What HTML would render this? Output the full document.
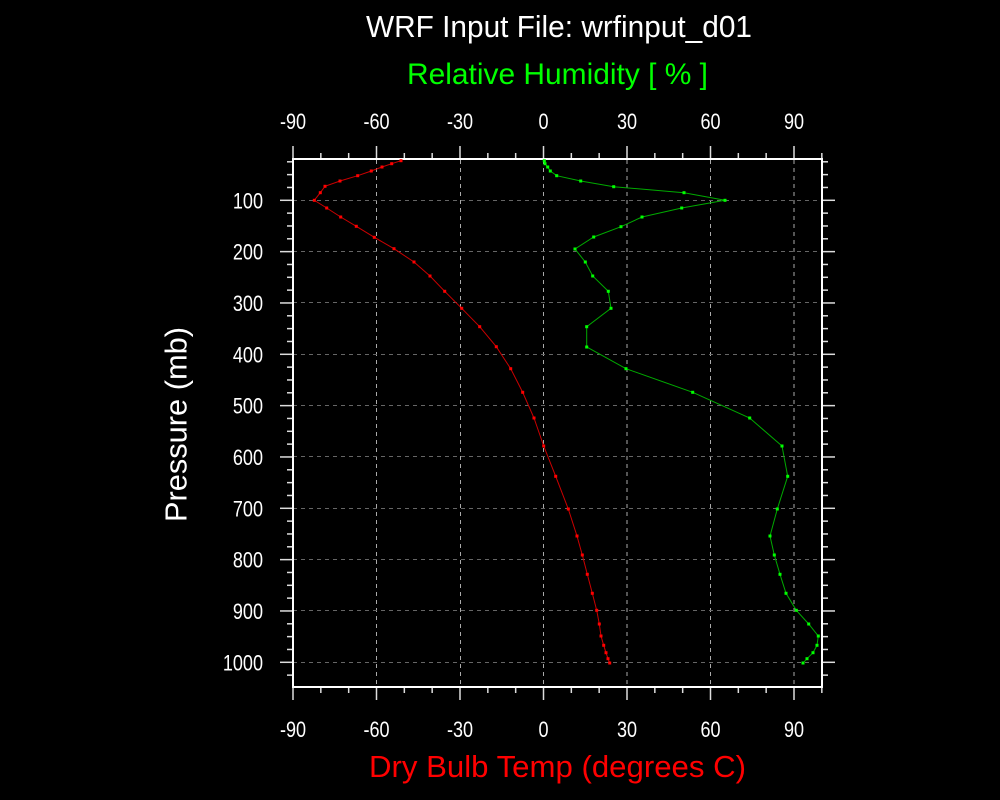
<!DOCTYPE html>
<html><head><style>html,body{margin:0;padding:0;background:#000;}svg{display:block}</style></head>
<body>
<svg width="1000" height="800" xmlns="http://www.w3.org/2000/svg" font-family="Liberation Sans, sans-serif">
<rect width="1000" height="800" fill="#000"/>
<g stroke="#aaa" stroke-width="1" stroke-dasharray="4,4">
<line x1="376.5" y1="160" x2="376.5" y2="687"/>
<line x1="460.5" y1="160" x2="460.5" y2="687"/>
<line x1="543.5" y1="160" x2="543.5" y2="687"/>
<line x1="627" y1="160" x2="627" y2="687"/>
<line x1="710.5" y1="160" x2="710.5" y2="687"/>
<line x1="794" y1="160" x2="794" y2="687"/>
</g>
<g stroke="#666" stroke-width="1" stroke-dasharray="4,4">
<line x1="293" y1="200.5" x2="822" y2="200.5"/>
<line x1="293" y1="251.5" x2="822" y2="251.5"/>
<line x1="293" y1="302.5" x2="822" y2="302.5"/>
<line x1="293" y1="354.5" x2="822" y2="354.5"/>
<line x1="293" y1="405.5" x2="822" y2="405.5"/>
<line x1="293" y1="456.5" x2="822" y2="456.5"/>
<line x1="293" y1="508.5" x2="822" y2="508.5"/>
<line x1="293" y1="559.5" x2="822" y2="559.5"/>
<line x1="293" y1="610.5" x2="822" y2="610.5"/>
<line x1="293" y1="662.5" x2="822" y2="662.5"/>
</g>
<g id="ticks" stroke="#ddd" stroke-width="1.5"></g>
<rect x="293" y="159" width="529" height="528" fill="none" stroke="#fff" stroke-width="2"/>
<polyline fill="none" stroke="#c00" stroke-width="1" points="401,160.7 391.7,163.7 382,167 371.3,171 357.7,175.7 340,181 325,186.3 320.3,192.7 314.3,200.3 326.7,208 340.7,217 356.3,226.3 374.3,237.3 394,248.7 414,262 430,276 444.7,291.3 461.7,308.3 479.7,326.7 496.3,346.7 510.7,368.7 522.7,392.3 534,418 543.7,446 555.7,476.3 568.3,509 577,536 582.3,555 587.3,574.3 592.3,593.3 596.7,610.3 599.3,624 601,636 603.7,645.3 606,652.7 608,658.7 609.7,663" id="red"/>
<polyline fill="none" stroke="#0a0" stroke-width="1" points="544.3,160.7 545,163.7 547.7,167 550.3,171 556.7,175.7 580.7,181 613.7,186.7 684,192.7 725,200.3 681.7,208 642,217 621,226.7 593.7,237 575,249 585.3,262 592.7,276 608.3,291.3 611,308.3 586.7,326.7 586.7,347 626,368.7 692.7,392.3 749.7,418 782,446 787.7,476.3 777.3,509 770,536 774.3,555 780,574.3 786,593.3 796.3,610.3 808.7,624 818.3,636 817,645.3 813,652.7 807,658.7 803,663" id="grn"/>
<g id="dots"></g>
<g id="labels" fill="#fff" font-size="22"></g>
<text x="366" y="37" fill="#fff" font-size="31" textLength="386" lengthAdjust="spacingAndGlyphs">WRF Input File: wrfinput_d01</text>
<text x="407" y="84" fill="#0f0" font-size="30" textLength="301" lengthAdjust="spacingAndGlyphs">Relative Humidity [ % ]</text>
<text x="369" y="777" fill="#f00" font-size="31" textLength="377" lengthAdjust="spacingAndGlyphs">Dry Bulb Temp  (degrees C)</text>
<text transform="translate(186.5,522) rotate(-90)" fill="#fff" font-size="31" textLength="195" lengthAdjust="spacingAndGlyphs">Pressure  (mb)</text>
</svg>
<script>
(function(){
var ns="http://www.w3.org/2000/svg";
var t=document.getElementById("ticks");
function L(x1,y1,x2,y2){var l=document.createElementNS(ns,"line");l.setAttribute("x1",x1);l.setAttribute("y1",y1);l.setAttribute("x2",x2);l.setAttribute("y2",y2);t.appendChild(l);}
var s=83.5/30;
for(var v=-90;v<=100;v+=10){var x=543.5+v*s;var maj=(v%30===0);var len=maj?13:6;L(x,159,x,159-len);L(x,687,x,687+len);}
var k=462/900;
for(var p=25;p<=1050;p+=25){var y=200.3+(p-100)*k;if(y<159||y>687)continue;var maj=(p%100===0);var len=maj?13:6;L(293,y,293-len,y);L(822,y,822+len,y);}
var d=document.getElementById("dots");
function dots(id,c){var pts=document.getElementById(id).getAttribute("points").trim().split(/\s+/);pts.forEach(function(q){var a=q.split(",");var r=document.createElementNS(ns,"rect");r.setAttribute("x",+a[0]-1.5);r.setAttribute("y",+a[1]-1.5);r.setAttribute("width",3);r.setAttribute("height",3);r.setAttribute("fill",c);d.appendChild(r);});}
dots("red","#f00");dots("grn","#0f0");
var g=document.getElementById("labels");
function T(x,y,txt,anchor){var e=document.createElementNS(ns,"text");e.setAttribute("transform","translate("+x+","+y+") scale(0.82,1)");e.setAttribute("text-anchor",anchor);e.textContent=txt;g.appendChild(e);}
[-90,-60,-30,0,30,60,90].forEach(function(v){var x=543.5+v*s;T(x,129,""+v,"middle");T(x,737,""+v,"middle");});
for(var p=100;p<=1000;p+=100){T(263,200.3+(p-100)*k+8,""+p,"end");}
})();
</script>
</body></html>
